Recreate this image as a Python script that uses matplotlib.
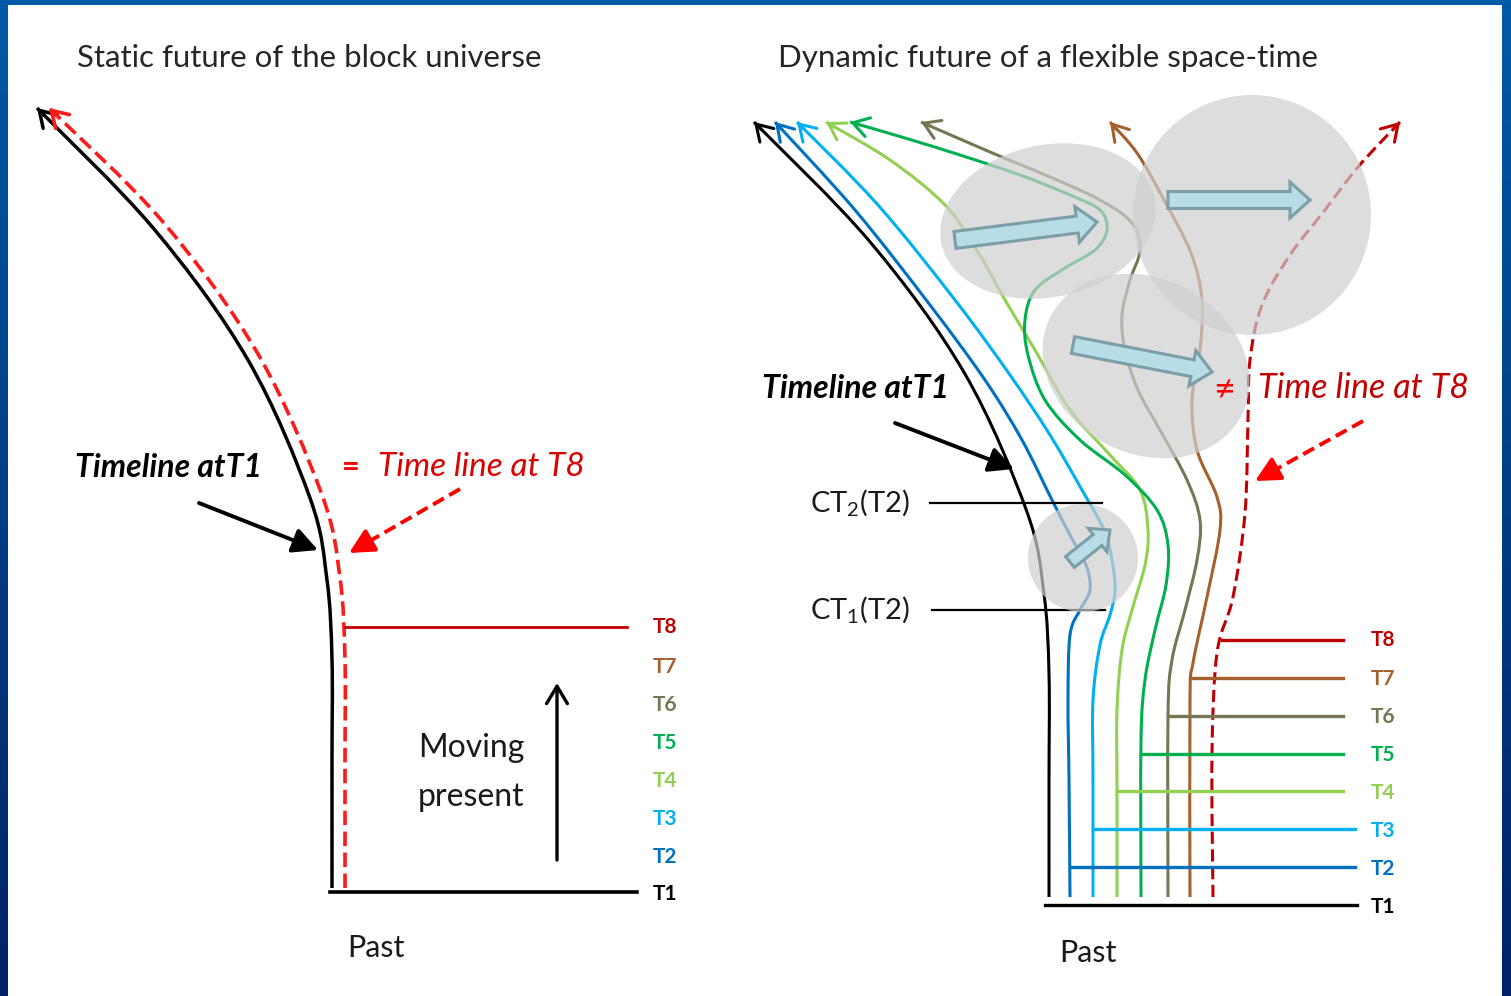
import numpy as np
import matplotlib
matplotlib.use("Agg")
import matplotlib.pyplot as plt
from matplotlib.path import Path
from matplotlib.patches import PathPatch, FancyArrowPatch, FancyArrow, Ellipse, Rectangle
from matplotlib.colors import LinearSegmentedColormap

plt.rcParams["font.family"] = ["Lato", "DejaVu Sans"]
plt.rcParams["mathtext.fontset"] = "custom"
plt.rcParams["mathtext.rm"] = "Lato"

# ----------------- diagram content (pixel space, y grows downward) ----- #
T_LABELS = ["T1", "T2", "T3", "T4", "T5", "T6", "T7", "T8"]
T_COLORS = ["#000000", "#0070c0", "#00b0f0", "#92d050",
            "#00b050", "#767655", "#a5602d", "#c00000"]
LEFT_T_Y = [894, 857, 819, 781, 743, 705, 667, 627]
RIGHT_T_Y = [907, 869, 831, 793, 755, 717, 679, 640]
RIGHT_LINE_Y = [905, 867, 829, 791, 754, 716, 678, 640]
RIGHT_LINE_X0 = [1045, 1071, 1093, 1117, 1141, 1168, 1191, 1222]
RIGHT_LINE_X1 = [1357, 1355, 1355, 1343, 1343, 1343, 1343, 1343]

LEFT_BLACK = [(332, 888), (332, 760), (332, 660), (327, 580), (310, 498),
              (248, 360), (154, 229), (37, 108)]
LEFT_RED = [(345, 888), (345, 760), (345, 660), (340, 578), (322, 495),
            (258, 354), (163, 222), (49, 108)]

RIGHT_CURVES = [
    [(1049, 897), (1049, 780), (1049, 674), (1044, 594), (1027, 512),
     (965, 374), (871, 243), (754, 122)],
    [(1070, 897), (1069, 780), (1068, 700), (1070, 635), (1080, 610),
     (1090, 590), (1086, 565), (1070, 535), (1052, 500), (1022, 440),
     (985, 380), (930, 305), (855, 210), (775, 122)],
    [(1093, 897), (1093, 780), (1093, 700), (1100, 645), (1110, 615),
     (1115, 590), (1112, 560), (1104, 530), (1082, 490), (1050, 435),
     (1010, 375), (955, 300), (878, 205), (797, 122)],
    [(1117, 897), (1117, 790), (1117, 710), (1122, 650), (1132, 610),
     (1145, 565), (1148, 530), (1140, 490), (1110, 455), (1070, 410),
     (1035, 350), (1005, 300), (978, 252), (945, 205), (890, 160),
     (826, 122)],
    [(1141, 897), (1141, 740), (1145, 680), (1155, 630), (1166, 585),
     (1168, 545), (1157, 510), (1125, 475), (1080, 440), (1045, 400),
     (1028, 355), (1025, 320), (1035, 290), (1065, 268), (1095, 250),
     (1107, 230), (1100, 210), (1070, 195), (1020, 175), (960, 155),
     (905, 138), (850, 122)],
    [(1168, 897), (1168, 716), (1172, 660), (1185, 610), (1197, 560),
     (1200, 520), (1187, 480), (1160, 430), (1138, 390), (1125, 350),
     (1122, 315), (1130, 280), (1140, 250), (1132, 223), (1100, 200),
     (1050, 177), (990, 152), (921, 122)],
    [(1190, 897), (1190, 700), (1193, 663), (1207, 597), (1220, 530),
     (1217, 497), (1197, 450), (1192, 400), (1200, 350), (1202, 300),
     (1191, 253), (1164, 200), (1137, 153), (1110, 122)],
    [(1213, 897), (1212, 753), (1217, 653), (1233, 597), (1245, 513),
     (1248, 420), (1250, 360), (1262, 305), (1290, 255), (1325, 210),
     (1358, 167), (1400, 122)],
]

# gray "uncertainty" blobs: centre, width, height, angle
BLOBS = [((1048, 221), 218, 152, -12), ((1252, 215), 238, 240, 0),
         ((1146, 366), 215, 175, 28), ((1083, 558), 110, 108, 0)]
# block arrows: start, end
SHIFTS = [((955, 240), (1097, 222)), ((1168, 200), (1310, 200)),
          ((1073, 345), (1212, 372)), ((1070, 562), (1110, 530))]


def smooth_path(pts):
    """Catmull-Rom through the points, as cubic Bezier segments."""
    pts = np.asarray(pts, float)
    n = len(pts)
    verts, codes = [pts[0]], [Path.MOVETO]
    for i in range(n - 1):
        p0 = pts[i - 1] if i > 0 else pts[i]
        p1, p2 = pts[i], pts[i + 1]
        p3 = pts[i + 2] if i + 2 < n else pts[i + 1]
        verts += [p1 + (p2 - p0) / 6, p2 - (p3 - p1) / 6, p2]
        codes += [Path.CURVE4] * 3
    return Path(verts, codes)


def draw_curve(ax, pts, color, lw=2.2, dashed=False, z=3):
    ls = (0, (4, 1.8)) if dashed else "-"
    ax.add_patch(PathPatch(smooth_path(pts), fill=False, ec=color, lw=lw,
                           ls=ls, capstyle="butt", zorder=z))
    tip = np.array(pts[-1], float)
    d = tip - np.array(pts[-2], float)
    d /= np.hypot(*d)
    ax.add_patch(FancyArrowPatch(tuple(tip - 10 * d), tuple(tip),
                                 arrowstyle="->,head_length=0.45,head_width=0.28",
                                 mutation_scale=25, color=color, lw=lw,
                                 shrinkA=0, shrinkB=0, zorder=z))


def pointer(ax, tail, tip, color, dashed=False):
    tail = np.array(tail, float)
    tip = np.array(tip, float)
    d = tip - tail
    d /= np.hypot(*d)
    if dashed:
        neck = tip - 8 * d
        ax.plot([tail[0], neck[0]], [tail[1], neck[1]], color=color, lw=2.8,
                dashes=(3.2, 1.6), solid_capstyle="butt", zorder=4)
        tail = tip - 12 * d
    ax.annotate("", xy=tuple(tip), xytext=tuple(tail),
                arrowprops=dict(arrowstyle="-|>,head_length=0.75,head_width=0.38",
                                mutation_scale=20, lw=2.8, color=color,
                                shrinkA=0, shrinkB=0), zorder=4)


fig = plt.figure(figsize=(15.11, 9.96), dpi=100)
ax = fig.add_axes([0, 0, 1, 1])

# blue frame and white slide
bg = LinearSegmentedColormap.from_list("bg", ["#005aa6", "#002266"])
ax.imshow(np.linspace(0, 1, 256)[:, None], cmap=bg, extent=(0, 1511, 996, 0),
          aspect="auto", zorder=0)
ax.add_patch(Rectangle((8, 5), 1494, 1000, fc="white", ec="none", zorder=1))

txt = "#262626"
ax.text(77, 58, "Static future of the block universe", fontsize=22.4,
        color=txt, va="center", ha="left")
ax.text(778, 58, "Dynamic future of a flexible space-time", fontsize=22.5,
        color=txt, va="center", ha="left")

# ---------------- left panel ----------------
draw_curve(ax, LEFT_BLACK, "black", lw=2.5)
draw_curve(ax, LEFT_RED, "#ff1a1a", lw=2.6, dashed=True)
ax.plot([330, 637], [892, 892], color="black", lw=2.6, zorder=3)
ax.plot([345, 627], [627, 627], color="#c00000", lw=2, zorder=3)
for lab, col, y in zip(T_LABELS, T_COLORS, LEFT_T_Y):
    ax.text(653, y, lab, color=col, fontsize=15, fontweight="bold",
            va="center", ha="left")

ax.text(471, 748, "Moving", fontsize=23, color="#1a1a1a", ha="center", va="center")
ax.text(471, 797, "present", fontsize=23, color="#1a1a1a", ha="center", va="center")
ax.annotate("", xy=(557, 683), xytext=(557, 860),
            arrowprops=dict(arrowstyle="->,head_length=0.5,head_width=0.3",
                            mutation_scale=25, lw=2.4, color="black",
                            shrinkA=0, shrinkB=0), zorder=3)
ax.text(376, 948, "Past", fontsize=22, color="#1a1a1a", ha="center", va="center")

ax.text(75, 467, "Timeline atT1", fontsize=23, fontweight="bold",
        fontstyle="italic", color="black", va="center", ha="left")
pointer(ax, (199, 503), (318, 550), "black")
ax.text(342, 467, "=", fontsize=22, fontweight="bold", color="#ff0000",
        va="center", ha="left")
ax.text(378, 467, "Time line at T8", fontsize=24, fontstyle="italic",
        color="#dd0000", va="center", ha="left")
pointer(ax, (460, 489), (349, 553), "#ff0000", dashed=True)

# ---------------- right panel ----------------
for pts, col in zip(RIGHT_CURVES, T_COLORS):
    draw_curve(ax, pts, col, dashed=(col == "#c00000"))
for col, y, x0, x1 in zip(T_COLORS, RIGHT_LINE_Y, RIGHT_LINE_X0, RIGHT_LINE_X1):
    ax.plot([x0, x1], [y, y], color=col, lw=2.4, zorder=3)
for lab, col, y in zip(T_LABELS, T_COLORS, RIGHT_T_Y):
    ax.text(1371, y, lab, color=col, fontsize=15, fontweight="bold",
            va="center", ha="left")

ax.plot([930, 1102], [503, 503], color="black", lw=1.6, zorder=3)
ax.plot([932, 1105], [610, 610], color="black", lw=1.6, zorder=3)
ax.text(810, 503, r"CT$_{\mathregular{2}}$(T2)", fontsize=21, color="#1a1a1a",
        va="center", ha="left")
ax.text(810, 610, r"CT$_{\mathregular{1}}$(T2)", fontsize=21, color="#1a1a1a",
        va="center", ha="left")

for (c, w, h, a) in BLOBS:
    ax.add_patch(Ellipse(c, w, h, angle=a, fc="#cfcfcf", ec="none",
                         alpha=0.7, zorder=5))
for (s, e) in SHIFTS:
    dx, dy = e[0] - s[0], e[1] - s[1]
    big = np.hypot(dx, dy) > 60
    ax.add_patch(FancyArrow(s[0], s[1], dx, dy, width=17 if big else 14,
                            head_width=36 if big else 30,
                            head_length=20 if big else 16,
                            length_includes_head=True, fc="#b7dde6",
                            ec="#7c9ea6", lw=2.2, zorder=6))

ax.text(1088, 953, "Past", fontsize=22, color="#1a1a1a", ha="center", va="center")
ax.text(762, 388, "Timeline atT1", fontsize=23, fontweight="bold",
        fontstyle="italic", color="black", va="center", ha="left")
pointer(ax, (895, 423), (1014, 469), "black")
ax.text(1213, 390, "≠", fontsize=27, color="#ff0000", va="center", ha="left",
        zorder=7)
ax.text(1258, 388, "Time line at T8", fontsize=24.5, fontstyle="italic",
        color="#c40000", va="center", ha="left", zorder=7)
pointer(ax, (1363, 421), (1255, 481), "#ff0000", dashed=True)

ax.set_xlim(0, 1511)
ax.set_ylim(996, 0)
ax.axis("off")
fig.savefig("out.png", dpi=100)
